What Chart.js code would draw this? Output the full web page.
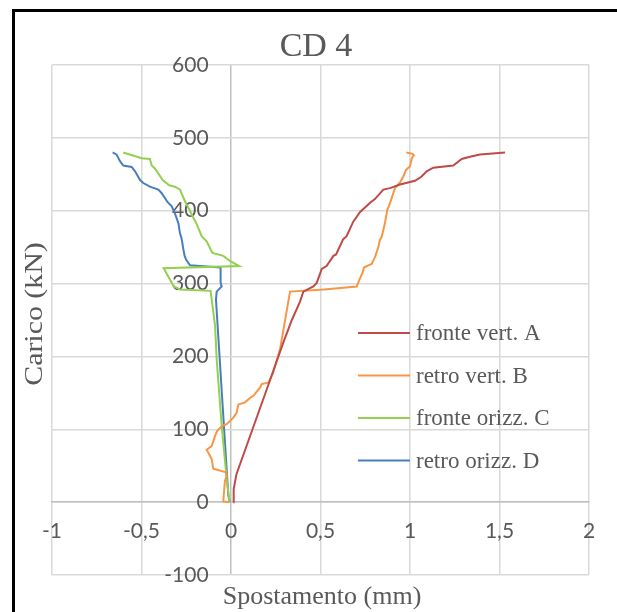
<!DOCTYPE html>
<html>
<head>
<meta charset="utf-8">
<script src="https://cdn.jsdelivr.net/npm/chart.js@4/dist/chart.umd.min.js"></script>
<style>
body { margin: 0; overflow: hidden; background: #fff; }
#frame { position: absolute; left: 12px; top: 9px; width: 700px; height: 700px; border-left: 3px solid #000; border-top: 3px solid #000; }
#wrap { position: absolute; left: 0; top: 0; }
</style>
</head>
<body>
<div id="frame"></div>
<div id="wrap"><canvas id="myChart" width="617" height="612"></canvas></div>
<script>
// series names and colours
const serieNames = ['fronte vert. A', 'retro vert. B', 'fronte orizz. C', 'retro orizz. D'];
const serieColors = ['#BE4B48', '#F79646', '#92D050', '#4A7EBB'];

// fronte vert. A
const spostA = [0.013, 0.015, 0.03, 0.2, 0.292, 0.34, 0.385, 0.404, 0.46, 0.479, 0.507, 0.534, 0.572, 0.587, 0.627, 0.646, 0.683, 0.72, 0.777, 0.804, 0.851, 0.888, 0.944, 1.028, 1.065, 1.093, 1.13, 1.242, 1.289, 1.335, 1.391, 1.531];
const caricoA = [0, 18, 38, 155, 219, 250, 275, 289, 296, 301, 320, 324, 338, 340, 361, 365, 385, 398, 411, 416, 429, 431, 436, 441, 447, 454, 459, 462, 471, 474, 477, 480];

// retro vert. B
const spostB = [-0.01, -0.043, -0.034, -0.024, -0.028, -0.099, -0.108, -0.127, -0.136, -0.108, -0.089, -0.077, -0.052, -0.024, 0.013, 0.032, 0.041, 0.078, 0.106, 0.125, 0.162, 0.171, 0.209, 0.227, 0.236, 0.274, 0.33, 0.52, 0.702, 0.717, 0.735, 0.743, 0.767, 0.786, 0.804, 0.823, 0.832, 0.842, 0.86, 0.873, 0.885, 0.916, 0.944, 0.963, 0.978, 1.0, 1.01, 1.022, 1.015, 0.98];
const caricoB = [0, 1, 29, 36, 41, 46, 59, 68, 72, 77, 91, 98, 104, 107, 116, 123, 134, 137, 143, 146, 157, 162, 164, 173, 178, 210, 289, 292, 296, 305, 315, 322, 325, 327, 336, 350, 360, 364, 383, 401, 408, 431, 439, 447, 456, 461, 472, 476, 478, 480];

// fronte orizz. C
const spostC = [-0.008, -0.015, -0.024, -0.052, -0.08, -0.089, -0.114, -0.285, -0.32, -0.376, 0.046, -0.006, -0.043, -0.104, -0.136, -0.164, -0.192, -0.201, -0.257, -0.285, -0.313, -0.345, -0.382, -0.425, -0.443, -0.453, -0.499, -0.602];
const caricoC = [0, 14, 32, 105, 196, 242, 290, 292, 296, 321, 324, 331, 338, 342, 358, 365, 382, 386, 413, 429, 433, 435, 442, 458, 462, 471, 472, 480];

// retro orizz. D
const spostD = [-0.006, -0.015, -0.084, -0.08, -0.052, -0.058, -0.058, -0.173, -0.229, -0.251, -0.259, -0.266, -0.276, -0.285, -0.294, -0.313, -0.331, -0.355, -0.387, -0.406, -0.453, -0.49, -0.508, -0.536, -0.555, -0.602, -0.62, -0.639, -0.661];
const caricoD = [0, 9, 278, 289, 296, 301, 322, 324, 325, 333, 338, 347, 362, 369, 383, 396, 406, 412, 424, 429, 433, 438, 442, 454, 460, 462, 468, 477, 480];

const xTicks = [-1, -0.5, 0, 0.5, 1, 1.5, 2];
const yTicks = [-100, 0, 100, 200, 300, 400, 500, 600];

const spostAll = [spostA, spostB, spostC, spostD];
const caricoAll = [caricoA, caricoB, caricoC, caricoD];

const datasets = serieNames.map((name, i) => ({
    label: name,
    data: spostAll[i].map((x, j) => ({ x: x, y: caricoAll[i][j] })),
    borderColor: serieColors[i],
    backgroundColor: serieColors[i],
    borderWidth: 2,
    pointRadius: 0,
    showLine: true,
    tension: 0
}));

// title, axis titles and legend drawn on the canvas
const extraText = {
    id: 'extraText',
    afterDraw(chart) {
        const { ctx, chartArea } = chart;
        ctx.save();
        ctx.fillStyle = '#595959';
        ctx.textAlign = 'center';
        ctx.textBaseline = 'alphabetic';
        ctx.font = '34px "Liberation Serif"';
        ctx.fillText('CD 4', 316, 56);
        ctx.font = '26px "Liberation Serif"';
        ctx.textBaseline = 'middle';
        ctx.fillText('Spostamento (mm)', 322, 597);
        ctx.translate(35, 314);
        ctx.rotate(-Math.PI / 2);
        ctx.scale(1.15, 1);
        ctx.font = '26px "Liberation Serif"';
        ctx.fillText('Carico (kN)', 0, 0);
        ctx.restore();

        // legend inside plot area
        ctx.save();
        ctx.font = '23px "Liberation Serif"';
        ctx.textAlign = 'left';
        ctx.textBaseline = 'middle';
        const x0 = chartArea.right - 231;
        chart.data.datasets.forEach((ds, i) => {
            const y = chartArea.top + 268 + i * 42.5;
            ctx.strokeStyle = ds.borderColor;
            ctx.lineWidth = 2;
            ctx.beginPath();
            ctx.moveTo(x0, y);
            ctx.lineTo(x0 + 52, y);
            ctx.stroke();
            ctx.fillStyle = '#595959';
            ctx.fillText(ds.label, x0 + 58, y + 1);
        });
        ctx.restore();
    }
};

const ctx = document.getElementById('myChart').getContext('2d');
const myChart = new Chart(ctx, {
    type: 'scatter',
    data: { datasets: datasets },
    options: {
        responsive: false,
        animation: false,
        layout: {
            padding: { left: 52, right: 28, top: 65, bottom: 37 }
        },
        scales: {
            x: {
                type: 'linear',
                position: { y: 0 },
                min: -1,
                max: 2,
                afterBuildTicks: axis => { axis.ticks = xTicks.map(v => ({ value: v })); },
                ticks: {
                    padding: 16,
                    color: '#595959',
                    font: { family: 'Lato', size: 21 },
                    callback: v => String(v).replace('.', ',')
                },
                grid: {
                    color: c => (c.tick && c.tick.value === 0) ? '#bfbfbf' : '#d9d9d9',
                    lineWidth: 1.5,
                    drawTicks: false
                },
                border: { color: '#bfbfbf', width: 1.5 }
            },
            y: {
                type: 'linear',
                // labels sit a little left of the x = 0 line
                position: { x: -0.125 },
                min: -100,
                max: 600,
                afterBuildTicks: axis => { axis.ticks = yTicks.map(v => ({ value: v })); },
                ticks: {
                    padding: 0,
                    color: '#595959',
                    font: { family: 'Lato', size: 21 }
                },
                grid: { color: '#d9d9d9', lineWidth: 1.5, drawTicks: false },
                border: { display: false }
            }
        },
        plugins: {
            legend: { display: false },
            tooltip: { enabled: false },
            title: { display: false }
        }
    },
    plugins: [extraText]
});
</script>
</body>
</html>
